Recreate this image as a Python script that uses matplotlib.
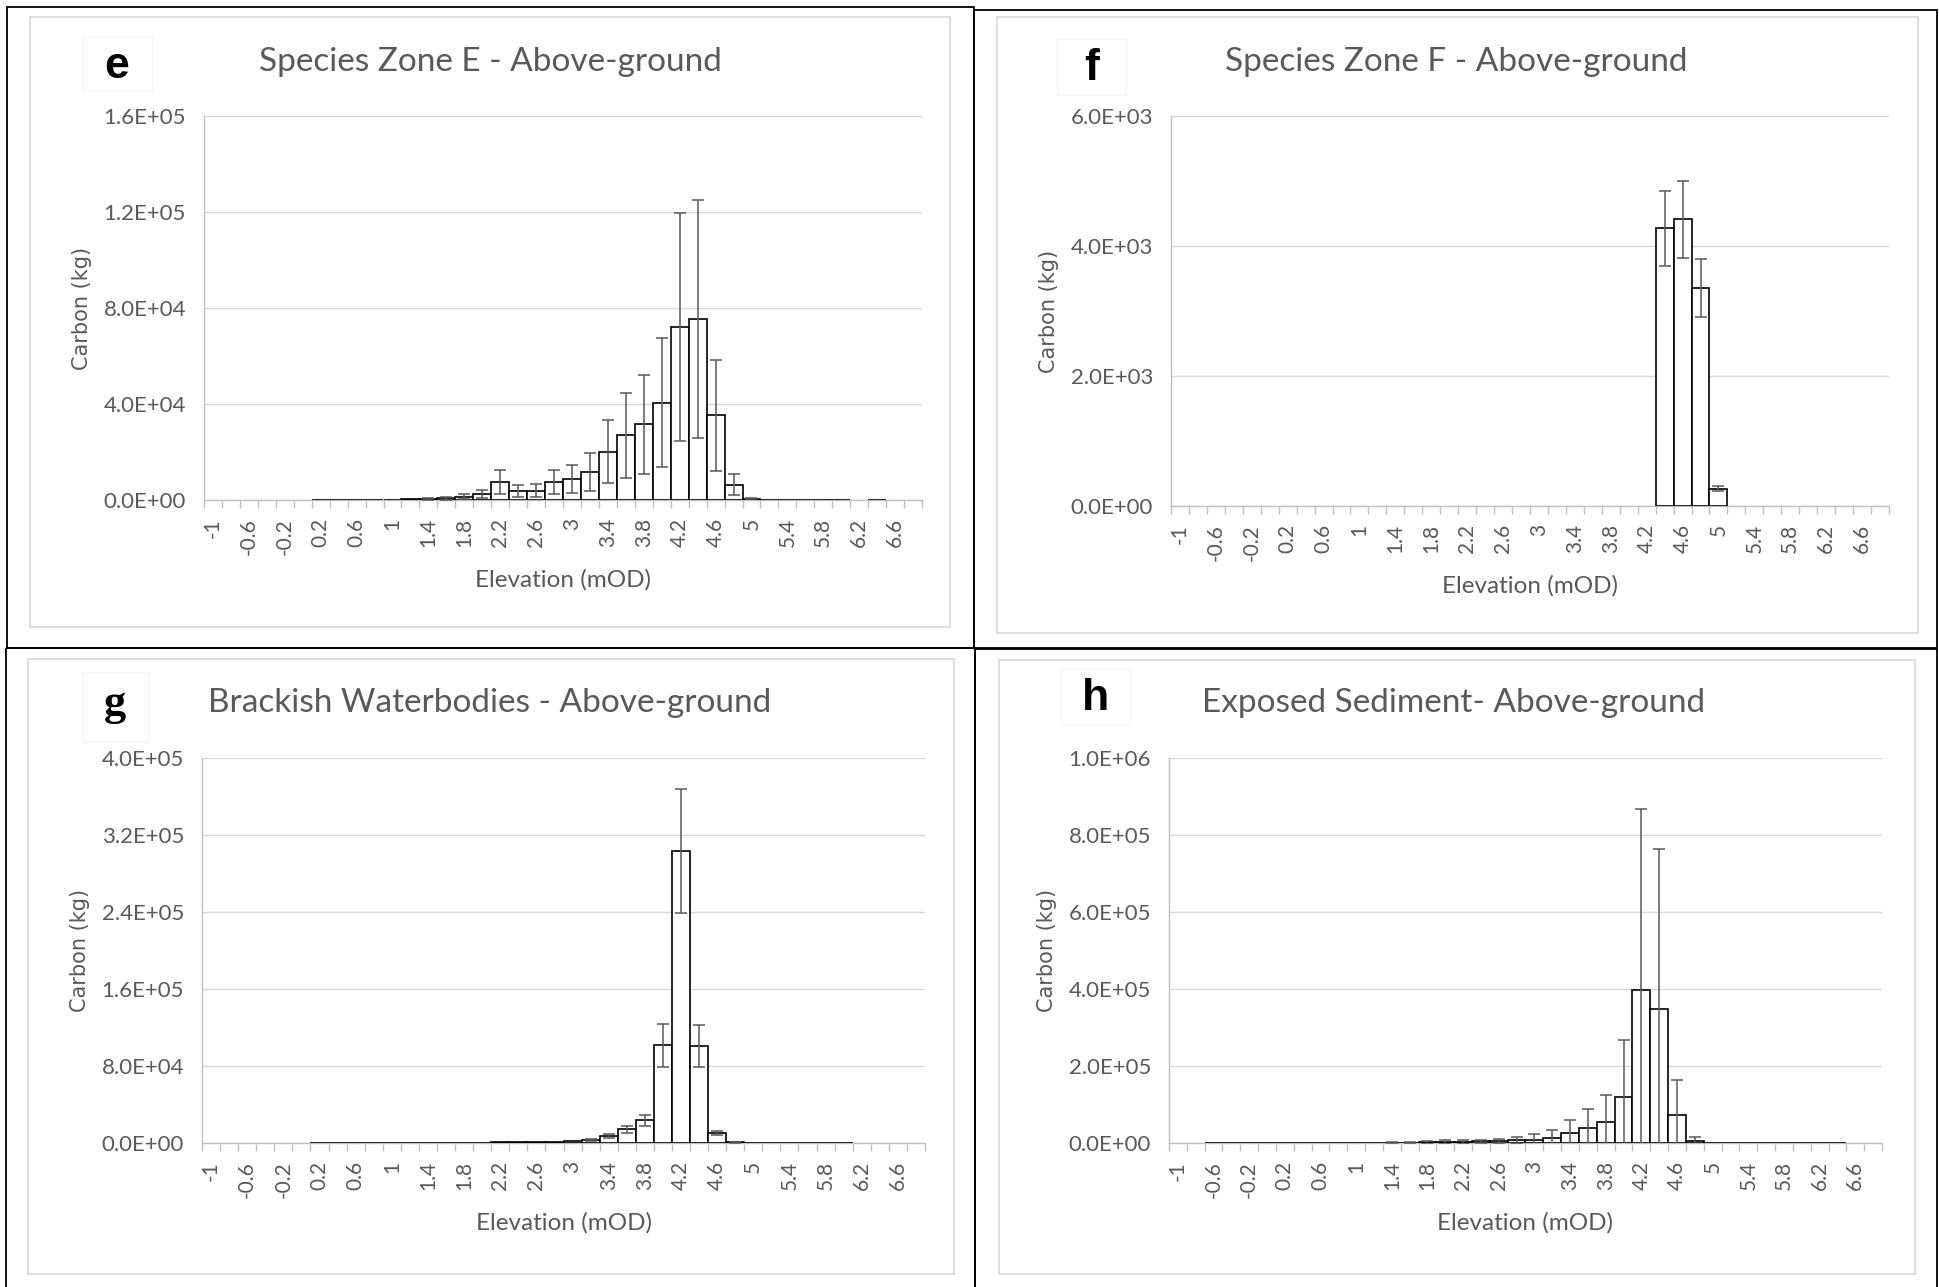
import numpy as np
import matplotlib
matplotlib.use('Agg')
import matplotlib.pyplot as plt
from matplotlib.ticker import FuncFormatter
from matplotlib.patches import Rectangle

plt.rcParams['font.family'] = ['Lato', 'DejaVu Sans']

# elevation bins (mOD), one bar per bin
elevation = [-1.0, -0.8, -0.6, -0.4, -0.2, 0.0, 0.2, 0.4, 0.6, 0.8,
             1.0, 1.2, 1.4, 1.6, 1.8, 2.0, 2.2, 2.4, 2.6, 2.8,
             3.0, 3.2, 3.4, 3.6, 3.8, 4.0, 4.2, 4.4, 4.6, 4.8,
             5.0, 5.2, 5.4, 5.6, 5.8, 6.0, 6.2, 6.4, 6.6, 6.8]
tick_labels = ['{:g}'.format(v) for v in elevation]

# e - Species Zone E
zone_e = [0, 0, 0, 0, 0, 0, 60, 80, 100, 120,
          150, 250, 400, 800, 1300, 2500, 7600, 3750, 3900, 7500,
          8900, 11700, 20100, 26900, 31500, 40600, 72100, 75400, 35300, 6400,
          500, 150, 100, 80, 60, 50, 0, 60, 0, 0]
zone_e_err = [0, 0, 0, 0, 0, 0, 0, 0, 0, 0,
              0, 0, 300, 600, 1000, 1700, 5000, 2400, 2600, 5000,
              5800, 7800, 13200, 17800, 20500, 26700, 47400, 49600, 23100, 4300,
              200, 0, 0, 0, 0, 0, 0, 0, 0, 0]

# f - Species Zone F
zone_f = [0, 0, 0, 0, 0, 0, 0, 0, 0, 0,
          0, 0, 0, 0, 0, 0, 0, 0, 0, 0,
          0, 0, 0, 0, 0, 0, 0, 4270, 4410, 3350,
          265, 0, 0, 0, 0, 0, 0, 0, 0, 0]
zone_f_err = [0, 0, 0, 0, 0, 0, 0, 0, 0, 0,
              0, 0, 0, 0, 0, 0, 0, 0, 0, 0,
              0, 0, 0, 0, 0, 0, 0, 570, 590, 445,
              35, 0, 0, 0, 0, 0, 0, 0, 0, 0]

# g - Brackish Waterbodies
brackish = [0, 0, 0, 0, 0, 0, 300, 300, 300, 350,
            350, 400, 400, 450, 450, 500, 550, 600, 800, 1000,
            1700, 3100, 7200, 14100, 23400, 101400, 303400, 101000, 10300, 700,
            200, 150, 100, 100, 80, 60, 0, 0, 0, 0]
brackish_err = [0, 0, 0, 0, 0, 0, 0, 0, 0, 0,
                0, 0, 0, 0, 0, 0, 0, 0, 0, 0,
                0, 800, 2000, 3400, 5500, 22000, 64500, 21700, 2000, 200,
                0, 0, 0, 0, 0, 0, 0, 0, 0, 0]

# h - Exposed Sediment
sediment = [0, 0, 200, 250, 300, 350, 400, 450, 500, 600,
            700, 800, 1000, 800, 1700, 2600, 3500, 4300, 5200, 6900,
            8600, 13800, 26800, 38900, 55300, 120100, 396500, 348200, 73400, 6000,
            300, 250, 200, 200, 150, 150, 100, 100, 0, 0]
sediment_err = [0, 0, 0, 0, 0, 0, 0, 0, 0, 0,
                0, 0, 800, 900, 3500, 4300, 5100, 4300, 6000, 8700,
                13900, 19900, 33700, 50100, 69100, 147700, 471800, 416400, 90700, 10400,
                0, 0, 0, 0, 0, 0, 0, 0, 0, 0]

W, H = 1940, 1287
GREY_TXT = '#595959'


def box(l, t, r, b):
    return [l / W, 1 - b / H, (r - l) / W, (b - t) / H]


fig = plt.figure(figsize=(W / 100, H / 100), dpi=100)

# page frames drawn in pixel space
bg = fig.add_axes([0, 0, 1, 1], zorder=-5)
bg.set_xlim(0, W)
bg.set_ylim(H, 0)
bg.axis('off')
for l, t, r, b in [(7, 7, 974, 648), (974, 10, 1937, 648),
                   (6, 648, 975, 1290), (975, 649, 1937, 1290)]:
    bg.add_patch(Rectangle((l, t), r - l, b - t, fill=False, ec='black', lw=1.3))
for l, t, r, b in [(30, 17, 950, 627), (997, 17, 1918, 633),
                   (28, 659, 954, 1274), (999, 660, 1915, 1274)]:
    bg.add_patch(Rectangle((l, t), r - l, b - t, fill=False, ec='#d9d9d9', lw=1.2))
for l, t, r, b in [(83, 36, 152, 91), (1057, 39, 1126, 95),
                   (83, 672, 148, 742), (1061, 668, 1130, 724)]:
    bg.add_patch(Rectangle((l, t), r - l, b - t, fill=False, ec='#f5f5f5', lw=1.0))


def draw_panel(rect, vals, errs, ymax, ystep, title, title_xy, letter, letter_xy,
               letter_family='Liberation Sans'):
    ax = fig.add_axes(box(*rect))
    x = np.arange(len(elevation))
    v = np.array(vals, dtype=float)
    e = np.array(errs, dtype=float)
    m = v > 0
    ax.bar(x[m], v[m], width=1.0, color='white', edgecolor='black', linewidth=1.2, zorder=3)
    me = e > 0
    ax.errorbar(x[me], v[me], yerr=e[me], fmt='none', ecolor=GREY_TXT,
                elinewidth=1.1, capsize=4.5, capthick=1.1, zorder=4)
    ax.set_xlim(-0.5, len(elevation) - 0.5)
    ax.set_ylim(0, ymax)
    ax.set_yticks(np.arange(0, ymax + ystep / 2, ystep))
    ax.yaxis.set_major_formatter(FuncFormatter(lambda val, p: '{:.1E}'.format(val)))
    ax.grid(axis='y', color='#d9d9d9', lw=1.0, zorder=0)
    ax.set_axisbelow(True)
    ax.set_xticks(x[::2])
    ax.set_xticklabels(tick_labels[::2], rotation=90)
    ax.set_xticks(np.arange(-0.5, len(elevation), 1), minor=True)
    ax.tick_params(axis='x', which='major', length=0, pad=13, labelsize=15, labelcolor=GREY_TXT)
    ax.tick_params(axis='x', which='minor', length=6, color='#bfbfbf', width=1.0)
    ax.tick_params(axis='y', length=0, pad=13, labelsize=16, labelcolor=GREY_TXT)
    for s in ['top', 'right']:
        ax.spines[s].set_visible(False)
    for s in ['left', 'bottom']:
        ax.spines[s].set_color('#bfbfbf')
        ax.spines[s].set_linewidth(1.0)

    fig.text(title_xy[0] / W, 1 - title_xy[1] / H, title, ha='center', va='center',
             fontsize=24, color=GREY_TXT)
    fig.text(letter_xy[0] / W, 1 - letter_xy[1] / H, letter, ha='center', va='center',
             fontsize=32, fontweight='bold', color='black', family=letter_family)
    cx = (rect[0] + rect[2]) / 2
    fig.text(cx / W, 1 - (rect[3] + 80) / H, 'Elevation (mOD)', ha='center', va='center',
             fontsize=17.5, color=GREY_TXT)
    fig.text(82 / W + (rect[0] - 204) / W, 1 - ((rect[1] + rect[3]) / 2) / H, 'Carbon (kg)',
             ha='center', va='center', rotation=90, fontsize=15, color=GREY_TXT,
             family='DejaVu Sans')
    return ax


draw_panel((204, 116, 922, 500), zone_e, zone_e_err, 1.6e5, 4e4,
           'Species Zone E - Above-ground', (490, 62), 'e', (117, 66))
draw_panel((1171, 116, 1889, 506), zone_f, zone_f_err, 6e3, 2e3,
           'Species Zone F - Above-ground', (1456, 62), 'f', (1092, 69))
draw_panel((202, 758, 925, 1143), brackish, brackish_err, 4e5, 8e4,
           'Brackish Waterbodies - Above-ground', (490, 703), 'g', (115, 704),
           letter_family='Liberation Serif')
draw_panel((1169, 758, 1882, 1143), sediment, sediment_err, 1e6, 2e5,
           'Exposed Sediment- Above-ground', (1454, 703), 'h', (1096, 698))

fig.savefig('out.png', dpi=100)
